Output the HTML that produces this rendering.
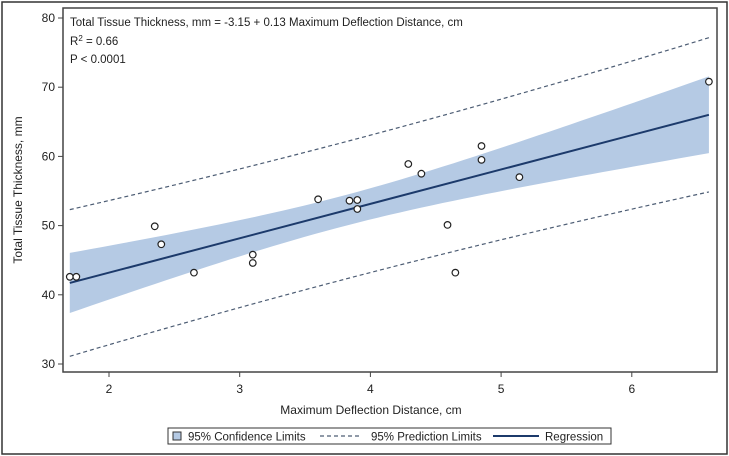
<!DOCTYPE html>
<html><head><meta charset="utf-8"><style>
body{margin:0;background:#fff;}
svg{display:block;font-family:"Liberation Sans",sans-serif;}
</style></head><body>
<svg id="chart" width="729" height="456" viewBox="0 0 729 456">
<rect x="2" y="2" width="725" height="452" fill="#fff" stroke="#333" stroke-width="1.5"/>
<g id="plot"></g>
</svg>
<script>
const xVals=[1.70,1.75,2.35,2.40,2.65,3.10,3.10,3.60,3.84,3.90,3.90,4.29,4.39,4.59,4.65,4.85,4.85,5.14,6.59];
const yVals=[42.6,42.6,49.9,47.3,43.2,45.8,44.6,53.8,53.6,53.7,52.4,58.9,57.5,50.1,43.2,61.5,59.5,57.0,70.8];
const xTicks=[2,3,4,5,6];
const yTicks=[30,40,50,60,70,80];
const statLines=["Total Tissue Thickness, mm = -3.15 + 0.13 Maximum Deflection Distance, cm","R2 = 0.66","P < 0.0001"];

const L=63,R=717,T=8,B=372;
const sx=v=>109+(v-2)*130.7;
const sy=v=>18+(80-v)*6.92;
const NS="http://www.w3.org/2000/svg";
const g=document.getElementById('plot');
function mk(tag,attrs,parent){const e=document.createElementNS(NS,tag);for(const k in attrs)e.setAttribute(k,attrs[k]);(parent||g).appendChild(e);return e;}

// regression
const n=xVals.length;
const mx=xVals.reduce((a,b)=>a+b)/n, my=yVals.reduce((a,b)=>a+b)/n;
let sxx=0,sxy=0;for(let i=0;i<n;i++){sxx+=(xVals[i]-mx)**2;sxy+=(xVals[i]-mx)*(yVals[i]-my);}
const b1=sxy/sxx,b0=my-b1*mx;
let sse=0;for(let i=0;i<n;i++)sse+=(yVals[i]-b0-b1*xVals[i])**2;
const s=Math.sqrt(sse/(n-2)),t=2.11;
const x0=Math.min(...xVals),x1=Math.max(...xVals);
const grid=[];for(let k=0;k<=60;k++)grid.push(x0+(x1-x0)*k/60);
const fit=x=>b0+b1*x;
const ci=x=>t*s*Math.sqrt(1/n+(x-mx)**2/sxx);
const pi=x=>t*s*Math.sqrt(1+1/n+(x-mx)**2/sxx);

let band=grid.map(x=>sx(x)+','+sy(fit(x)+ci(x))).concat(grid.slice().reverse().map(x=>sx(x)+','+sy(fit(x)-ci(x))));
let e=mk('polygon',{points:band.join(' '),fill:'#b5cae4'});


e=mk('polyline',{points:grid.map(x=>sx(x)+','+sy(fit(x)+pi(x))).join(' '),fill:'none',stroke:'#4d5d74','stroke-width':1.2,'stroke-dasharray':'4,3'});


e=mk('polyline',{points:grid.map(x=>sx(x)+','+sy(fit(x)-pi(x))).join(' '),fill:'none',stroke:'#4d5d74','stroke-width':1.2,'stroke-dasharray':'4,3'});


e=mk('line',{x1:sx(x0),y1:sy(fit(x0)),x2:sx(x1),y2:sy(fit(x1)),stroke:'#1c3a6b','stroke-width':2});


for(let i=0;i<n;i++){
  e=mk('circle',{cx:sx(xVals[i]),cy:sy(yVals[i]),r:3.3,fill:'#fff',stroke:'#222','stroke-width':1.2});
  
  
}
e=mk('rect',{x:L,y:T,width:R-L,height:B-T,fill:'none',stroke:'#444','stroke-width':1.5});


xTicks.forEach(v=>{
  e=mk('line',{x1:sx(v),y1:B,x2:sx(v),y2:B+5,stroke:'#444'});
  
  
  e=mk('text',{x:sx(v),y:B+21,'text-anchor':'middle','font-size':12,fill:'#222'});e.textContent=v;
  
  
});
yTicks.forEach(v=>{
  e=mk('line',{x1:L-5,y1:sy(v),x2:L,y2:sy(v),stroke:'#444'});
  
  
  e=mk('text',{x:L-8,y:sy(v)+4,'text-anchor':'end','font-size':12,fill:'#222'});e.textContent=v;
  
  
});
e=mk('text',{x:371,y:414,'text-anchor':'middle','font-size':12,fill:'#222'});e.textContent='Maximum Deflection Distance, cm';


e=mk('text',{x:22,y:190,'text-anchor':'middle','font-size':12,fill:'#222',transform:'rotate(-90 22 190)'});e.textContent='Total Tissue Thickness, mm';


// stats
e=mk('text',{x:70,y:26,'font-size':11.5,fill:'#222'});e.textContent=statLines[0];


e=mk('text',{x:70,y:45,'font-size':11.5,fill:'#222'});e.innerHTML='R<tspan dy="-4" font-size="8">2</tspan><tspan dy="4"> = 0.66</tspan>';


e=mk('text',{x:70,y:63,'font-size':11.5,fill:'#222'});e.textContent=statLines[2];


// legend
const lg=mk('g',{});


mk('rect',{x:168,y:428,width:443,height:16,fill:'#fff',stroke:'#333'},lg);
e=mk('rect',{x:173,y:432,width:8,height:8,fill:'#b5cae4',stroke:'#333'},lg);


e=mk('text',{x:188,y:440.5,'font-size':11.5,fill:'#222'},lg);e.textContent='95% Confidence Limits';


mk('line',{x1:320,y1:436,x2:361,y2:436,stroke:'#4d5d74','stroke-dasharray':'4,3','stroke-width':1.2},lg);
e=mk('text',{x:371,y:440.5,'font-size':11.5,fill:'#222'},lg);e.textContent='95% Prediction Limits';


mk('line',{x1:493,y1:436,x2:539,y2:436,stroke:'#1c3a6b','stroke-width':2},lg);
e=mk('text',{x:545,y:440.5,'font-size':11.5,fill:'#222'},lg);e.textContent='Regression';


</script>
</body></html>
